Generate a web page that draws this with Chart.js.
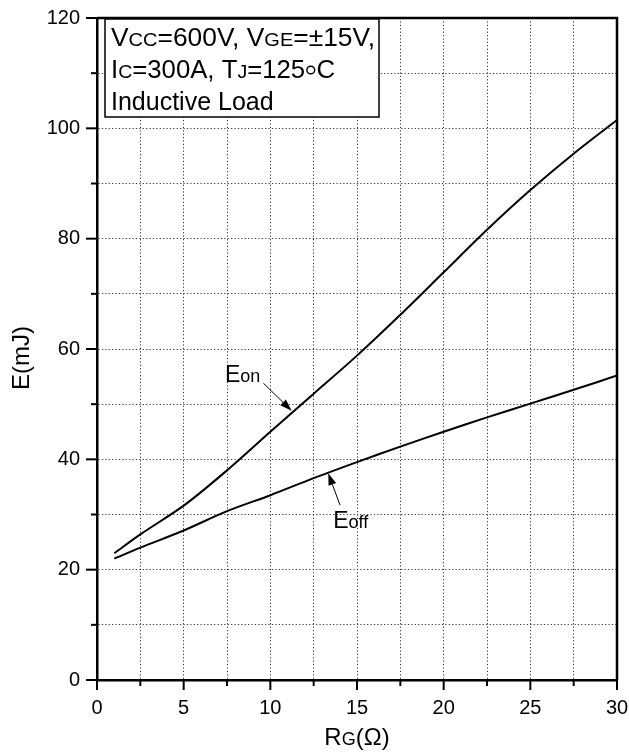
<!DOCTYPE html>
<html>
<head>
<meta charset="utf-8">
<script src="https://cdn.jsdelivr.net/npm/chart.js@4.4.1/dist/chart.umd.min.js"></script>
<style>
html,body{margin:0;padding:0;background:#fff;}
canvas{display:block;}
</style>
</head>
<body>
<canvas id="c" width="629" height="754"></canvas>
<script>
// ---- data ----
const rgValues   = [1, 2.5, 5, 7.5, 10, 12.5, 15, 17.5, 20, 22.5, 25, 27.5, 30];
const eonValues  = [23, 26.4, 31.6, 38, 45, 51.9, 58.8, 66.2, 73.9, 81.6, 88.8, 95.4, 101.5];
const eoffValues = [22, 24, 27.1, 30.6, 33.5, 36.6, 39.5, 42.3, 45, 47.6, 50.1, 52.6, 55.2];
const xLabelStep = 5;   // labelled x ticks
const yLabelStep = 20;  // labelled y ticks

const FONT = '"Liberation Sans", Arial, sans-serif';

function toPoints(xs, ys){ return xs.map((x,i)=>({x:x, y:ys[i]})); }

function partWidth(ctx, p){
  if (p.ring) return p.w;
  ctx.font = p.s + 'px ' + FONT;
  return ctx.measureText(p.t).width;
}
function richWidth(ctx, parts){
  let w = 0;
  for (const p of parts) w += partWidth(ctx, p);
  return w;
}
function drawRich(ctx, x, y, parts, target){
  ctx.save();
  ctx.translate(x, y);
  if (target){ const w = richWidth(ctx, parts); ctx.scale(target / w, 1); }
  let cx = 0;
  for (const p of parts){
    if (p.ring){
      ctx.save();
      ctx.lineWidth = 1.4; ctx.strokeStyle = '#000';
      ctx.beginPath(); ctx.arc(cx + p.w/2, -8, 3.8, 0, Math.PI*2); ctx.stroke();
      ctx.restore();
      cx += p.w;
      continue;
    }
    ctx.font = p.s + 'px ' + FONT;
    ctx.fillText(p.t, cx, 0);
    cx += ctx.measureText(p.t).width;
  }
  ctx.restore();
}
function arrow(ctx, x1, y1, x2, y2){
  ctx.save();
  ctx.strokeStyle = '#000'; ctx.fillStyle = '#000'; ctx.lineWidth = 1;
  const ang = Math.atan2(y2-y1, x2-x1);
  const hl = 12, hw = 4;
  const bx = x2 - hl*Math.cos(ang), by = y2 - hl*Math.sin(ang);
  ctx.beginPath(); ctx.moveTo(x1,y1); ctx.lineTo(bx,by); ctx.stroke();
  ctx.beginPath();
  ctx.moveTo(x2,y2);
  ctx.lineTo(bx + hw*Math.sin(ang), by - hw*Math.cos(ang));
  ctx.lineTo(bx - hw*Math.sin(ang), by + hw*Math.cos(ang));
  ctx.closePath(); ctx.fill();
  ctx.restore();
}

const decor = {
  id: 'decor',
  afterDraw(chart){
    const ctx = chart.ctx, a = chart.chartArea;
    const xs = chart.scales.x, ys = chart.scales.y;
    ctx.save();
    // frame top / right
    ctx.strokeStyle = '#000'; ctx.lineWidth = 2.5;
    ctx.beginPath();
    ctx.moveTo(a.left, a.top); ctx.lineTo(a.right, a.top); ctx.lineTo(a.right, a.bottom);
    ctx.stroke();
    // tick marks
    ctx.lineWidth = 2;
    xs.ticks.forEach(t=>{
      const px = xs.getPixelForValue(t.value);
      const len = (Math.abs(t.value % xLabelStep) < 1e-6) ? 10 : 6;
      ctx.beginPath(); ctx.moveTo(px, a.bottom); ctx.lineTo(px, a.bottom+len); ctx.stroke();
    });
    ys.ticks.forEach(t=>{
      const py = ys.getPixelForValue(t.value);
      const len = (Math.abs(t.value % yLabelStep) < 1e-6) ? 11 : 6;
      ctx.beginPath(); ctx.moveTo(a.left, py); ctx.lineTo(a.left-len, py); ctx.stroke();
    });
    // legend box
    ctx.fillStyle = '#fff';
    ctx.fillRect(105, 19, 274, 98);
    ctx.strokeStyle = '#000'; ctx.lineWidth = 1.5;
    ctx.strokeRect(105, 19, 274, 98);
    ctx.fillStyle = '#000';
    ctx.textAlign = 'left'; ctx.textBaseline = 'alphabetic';
    const B = 25, S = 19;
    drawRich(ctx, 111, 46, [{t:'V',s:B},{t:'CC',s:S},{t:'=600V, V',s:B},{t:'GE',s:S},{t:'=\u00B115V,',s:B}], 264);
    drawRich(ctx, 111, 78, [{t:'I',s:B},{t:'C',s:S},{t:'=300A, T',s:B},{t:'J',s:S},{t:'=125',s:B},{ring:true,w:11},{t:'C',s:B}], 224);
    drawRich(ctx, 111, 110, [{t:'Inductive Load',s:B}]);
    // curve labels
    drawRich(ctx, xs.getPixelForValue(7.38), ys.getPixelForValue(54.0), [{t:'E',s:23},{t:'on',s:18}]);
    arrow(ctx, xs.getPixelForValue(9.6), ys.getPixelForValue(53.8), xs.getPixelForValue(11.23), ys.getPixelForValue(48.8));
    drawRich(ctx, xs.getPixelForValue(13.63), ys.getPixelForValue(27.5), [{t:'E',s:23},{t:'off',s:18}]);
    arrow(ctx, xs.getPixelForValue(14.02), ys.getPixelForValue(31.7), xs.getPixelForValue(13.34), ys.getPixelForValue(37.5));
    // axis titles
    const xt = [{t:'R',s:24},{t:'G',s:18},{t:'(\u03A9)',s:24}];
    const cx = (a.left + a.right)/2;
    drawRich(ctx, cx - richWidth(ctx, xt)/2, 745, xt);
    ctx.save();
    ctx.translate(28.5, 358);
    ctx.rotate(-Math.PI/2);
    const yt = [{t:'E(mJ)',s:24}];
    drawRich(ctx, -richWidth(ctx, yt)/2, 0, yt);
    ctx.restore();
    ctx.restore();
  }
};

new Chart(document.getElementById('c'), {
  type: 'line',
  data: {
    datasets: [
      { label: 'Eon', data: toPoints(rgValues, eonValues), borderColor: '#000', borderWidth: 2, pointRadius: 0, tension: 0.3, fill: false },
      { label: 'Eoff', data: toPoints(rgValues, eoffValues), borderColor: '#000', borderWidth: 2, pointRadius: 0, tension: 0.3, fill: false }
    ]
  },
  options: {
    responsive: false,
    animation: false,
    devicePixelRatio: 1,
    layout: { padding: { left: 0, right: 12, top: 18, bottom: 0 } },
    plugins: { legend: { display: false }, tooltip: { enabled: false } },
    scales: {
      x: {
        type: 'linear', min: 0, max: 30,
        ticks: {
          stepSize: 2.5, autoSkip: false, maxRotation: 0,
          color: '#000', font: { family: FONT, size: 20 }, padding: 16,
          callback: v => (Math.abs(v % xLabelStep) < 1e-6 ? String(v) : '')
        },
        grid: { color: '#333', lineWidth: 1, drawTicks: false },
        border: { display: true, color: '#000', width: 2.5, dash: [1.2, 2.2] },
        afterFit: s => { s.height = 74; s.paddingLeft = 0; s.paddingRight = 0; s.paddingTop = 0; s.paddingBottom = 0; }
      },
      y: {
        type: 'linear', min: 0, max: 120,
        ticks: {
          stepSize: 10, autoSkip: false,
          color: '#000', font: { family: FONT, size: 20 }, padding: 17,
          callback: v => (Math.abs(v % yLabelStep) < 1e-6 ? String(v) : '')
        },
        grid: { color: '#333', lineWidth: 1, drawTicks: false },
        border: { display: true, color: '#000', width: 2.5, dash: [1.2, 2.2] },
        afterFit: s => { s.width = 97; s.paddingLeft = 0; s.paddingRight = 0; s.paddingTop = 0; s.paddingBottom = 0; }
      }
    }
  },
  plugins: [decor]
});
</script>
</body>
</html>
